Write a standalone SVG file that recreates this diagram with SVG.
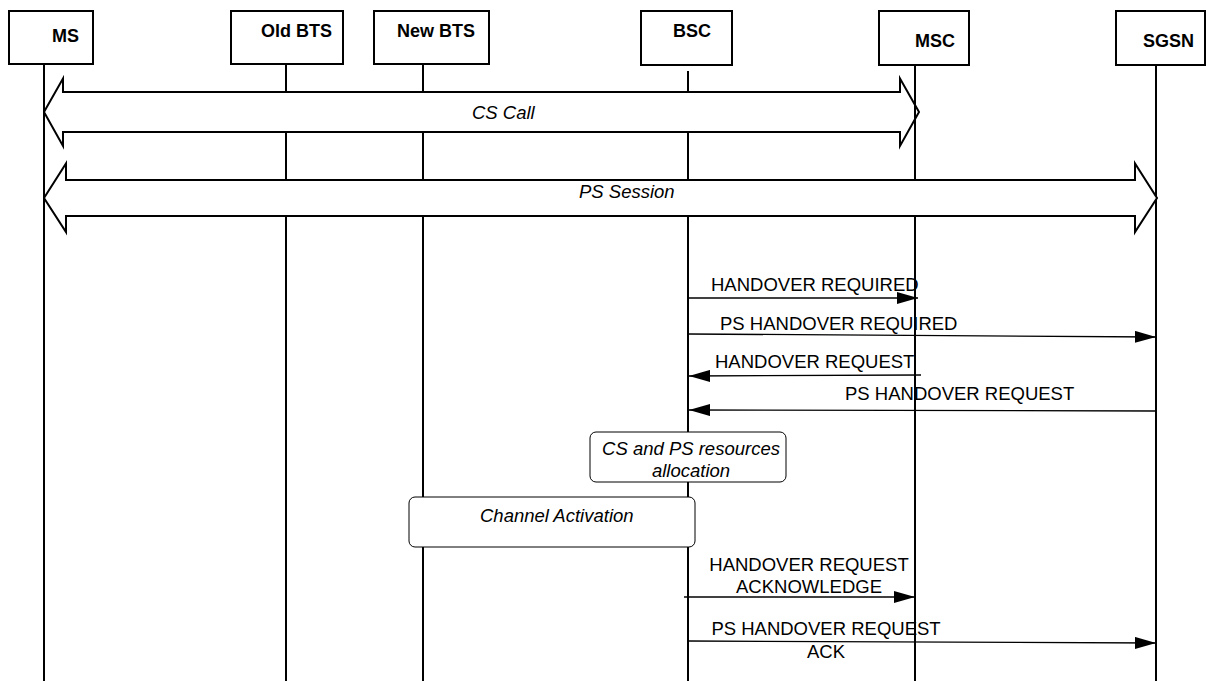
<svg xmlns="http://www.w3.org/2000/svg" width="1206" height="681" viewBox="0 0 1206 681">
<defs>
<style>
.box{fill:#fff;stroke:#000;stroke-width:2}
.life{stroke:#000;stroke-width:2;fill:none}
.hdr{font-family:"Liberation Sans",Arial,sans-serif;font-size:18px;font-weight:bold;fill:#000}
.msg{font-family:"Liberation Sans",Arial,sans-serif;font-size:18.5px;fill:#000}
.it{font-family:"Liberation Sans",Arial,sans-serif;font-size:18.5px;font-style:italic;fill:#000}
.band{fill:none;stroke:#000;stroke-width:2;stroke-linejoin:miter}
.bandfill{fill:#fff;stroke:none}
.arr{stroke:#000;stroke-width:1.3;fill:none;marker-end:url(#ah)}
.note{fill:#fff;stroke:#000;stroke-width:1}
</style>
<marker id="ah" viewBox="0 0 21 12" markerWidth="21" markerHeight="12" refX="21" refY="6" orient="auto" markerUnits="userSpaceOnUse">
<path d="M0,0 L21,6 L0,12 z" fill="#000"/>
</marker>
</defs>
<rect width="1206" height="681" fill="#fff"/>

<g id="node-ms">
<rect class="box" x="9" y="11" width="84" height="53"/>
<text class="hdr" x="52" y="42">MS</text>
<line class="life" x1="44" y1="64" x2="44" y2="681"/>
</g>
<g id="node-oldbts">
<rect class="box" x="231" y="11" width="112" height="53"/>
<text class="hdr" x="261" y="37">Old BTS</text>
<line class="life" x1="286" y1="64" x2="286" y2="681"/>
</g>
<g id="node-newbts">
<rect class="box" x="374" y="11" width="115" height="53"/>
<text class="hdr" x="397" y="37">New BTS</text>
<line class="life" x1="423" y1="64" x2="423" y2="681"/>
</g>
<g id="node-bsc">
<rect class="box" x="641" y="11" width="91" height="54"/>
<text class="hdr" x="673" y="37">BSC</text>
<line class="life" x1="688" y1="71" x2="688" y2="681"/>
</g>
<g id="node-msc">
<rect class="box" x="879" y="11" width="90" height="54"/>
<text class="hdr" x="915" y="47">MSC</text>
<line class="life" x1="915" y1="65" x2="915" y2="681"/>
</g>
<g id="node-sgsn">
<rect class="box" x="1116" y="11" width="89" height="54"/>
<text class="hdr" x="1143" y="47">SGSN</text>
<line class="life" x1="1156" y1="65" x2="1156" y2="681"/>
</g>

<g id="connectors">
<g id="cs-call">
<path class="bandfill" d="M44,112 L63,78.5 L63,92 L900,92 L900,78.5 L912,99.7 L912,124.8 L900,146 L900,132 L63,132 L63,146 Z"/>
<path class="band" d="M44,112 L63,78.5 L63,92 L900,92 L900,78.5 L919,112 L900,146 L900,132 L63,132 L63,146 Z"/>
<text class="it" x="472" y="119">CS Call</text>
</g>
<g id="ps-session">
<path class="bandfill" d="M44,198 L66,163.5 L66,180 L1135,180 L1135,163.5 L1157,198 L1135,232 L1135,216 L66,216 L66,232 Z"/>
<path class="band" d="M44,198 L66,163.5 L66,180 L1135,180 L1135,163.5 L1157,198 L1135,232 L1135,216 L66,216 L66,232 Z"/>
<text class="it" x="579" y="198">PS Session</text>
</g>
<g id="m1">
<line class="arr" x1="688" y1="298" x2="918" y2="298"/>
<text class="msg" x="711" y="291">HANDOVER REQUIRED</text>
</g>
<g id="m2">
<line class="arr" x1="688" y1="334" x2="1156" y2="337"/>
<text class="msg" x="720" y="330">PS HANDOVER REQUIRED</text>
</g>
<g id="m3">
<line class="arr" x1="921" y1="375" x2="689" y2="376"/>
<text class="msg" x="715" y="368">HANDOVER REQUEST</text>
</g>
<g id="m4">
<line class="arr" x1="1156" y1="411" x2="689" y2="410"/>
<text class="msg" x="845" y="400">PS HANDOVER REQUEST</text>
</g>
<g id="m5">
<line class="arr" x1="684" y1="597" x2="915" y2="597"/>
<text class="msg" x="809" y="571" text-anchor="middle">HANDOVER REQUEST</text>
<text class="msg" x="809" y="593" text-anchor="middle">ACKNOWLEDGE</text>
</g>
<g id="m6">
<line class="arr" x1="688" y1="641" x2="1156" y2="643"/>
<text class="msg" x="826" y="635" text-anchor="middle">PS HANDOVER REQUEST</text>
<text class="msg" x="826" y="658" text-anchor="middle">ACK</text>
</g>
</g>

<g id="note-resources">
<rect class="note" x="590" y="432" width="196" height="50" rx="6" ry="6"/>
<text class="it" x="691" y="455" text-anchor="middle">CS and PS resources</text>
<text class="it" x="691" y="477" text-anchor="middle">allocation</text>
</g>
<g id="note-channel">
<rect class="note" x="409" y="497" width="286" height="50" rx="6" ry="6"/>
<text class="it" x="480" y="522">Channel Activation</text>
</g>
</svg>
